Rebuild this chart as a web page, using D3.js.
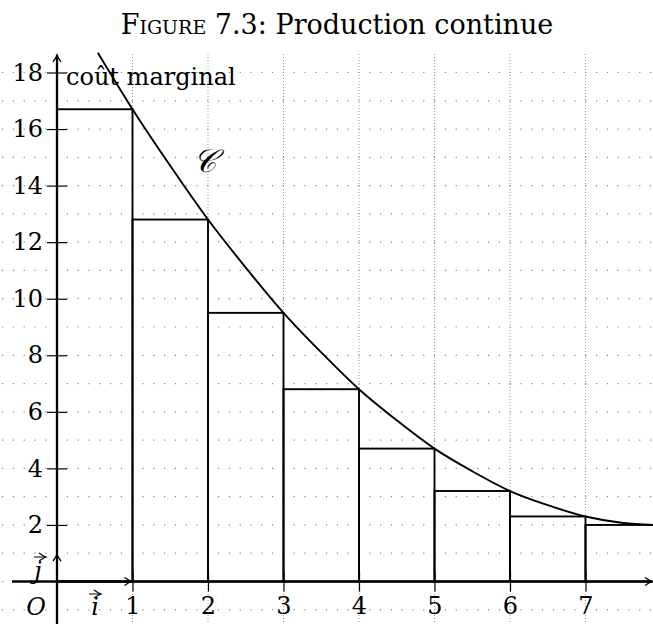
<!DOCTYPE html>
<html>
<head>
<meta charset="utf-8">
<script src="https://cdn.jsdelivr.net/npm/d3@7"></script>
<style>
  body { margin: 0; background: #fff; }
  svg text { font-family: "DejaVu Serif", serif; fill: #000; }
</style>
</head>
<body>
<svg id="chart"></svg>
<script>
let w = 653;
let h = 624;

// marginal cost curve C
let curveX = [0.54, 1, 1.5, 2, 2.5, 3, 3.5, 4, 4.5, 5, 5.5, 6, 6.5, 7, 7.5, 7.9];
let curveY = [18.7, 16.7, 14.7, 12.8, 11.1, 9.5, 8.1, 6.8, 5.7, 4.7, 3.9, 3.2, 2.7, 2.3, 2.07, 2.0];

// rectangles under the curve
let barStart = [0, 1, 2, 3, 4, 5, 6, 7];
let barEnd = [1, 2, 3, 4, 5, 6, 7, 7.9];
let barHeight = [16.7, 12.8, 9.5, 6.8, 4.7, 3.2, 2.3, 2.0];

let xTicks = [1, 2, 3, 4, 5, 6, 7];
let yTicks = [2, 4, 6, 8, 10, 12, 14, 16, 18];

let chart = d3.select("#chart").attr("width", w).attr("height", h);

let xScale = d3.scaleLinear().domain([0, 7]).range([57, 585.5]);
let yScale = d3.scaleLinear().domain([0, 18]).range([581.5, 72.5]);

// arrow marker
chart.append("defs").append("marker")
    .attr("id", "arr")
    .attr("viewBox", "-8 -5 10 10")
    .attr("markerWidth", 10).attr("markerHeight", 10)
    .attr("markerUnits", "userSpaceOnUse")
    .attr("orient", "auto")
    .append("path")
    .attr("d", "M -7 -4 Q -2 -0.6 0 0 Q -2 0.6 -7 4")
    .attr("fill", "none").attr("stroke", "#000").attr("stroke-width", 1.3);

// grid
let grid = chart.append("g");
grid.selectAll(".hg")
    .data(d3.range(-1, 19))
    .join("line")
    .attr("x1", 2).attr("x2", w)
    .attr("y1", (d) => yScale(d)).attr("y2", (d) => yScale(d))
    .attr("stroke", "#888").attr("stroke-width", 1.2)
    .attr("stroke-dasharray", "1.2 9.6");
grid.selectAll(".vg")
    .data(xTicks)
    .join("line")
    .attr("x1", (d) => xScale(d)).attr("x2", (d) => xScale(d))
    .attr("y1", 54).attr("y2", h)
    .attr("stroke", "#999").attr("stroke-width", 1)
    .attr("stroke-dasharray", "1 2");

// rectangles
chart.selectAll(".bar")
    .data(barHeight)
    .join("rect")
    .attr("x", (d, i) => xScale(barStart[i]))
    .attr("y", (d) => yScale(d))
    .attr("width", (d, i) => xScale(barEnd[i]) - xScale(barStart[i]) + (i == 7 ? 20 : 0))
    .attr("height", (d) => yScale(0) - yScale(d))
    .attr("fill", "none").attr("stroke", "#000").attr("stroke-width", 1.9);

// curve
let pts = curveX.map((x, i) => [x, curveY[i]]);
chart.append("path")
    .datum(pts)
    .attr("fill", "none").attr("stroke", "#000").attr("stroke-width", 1.9)
    .attr("d", d3.line()
        .x((d) => xScale(d[0]))
        .y((d) => yScale(d[1]))
        .curve(d3.curveMonotoneX));

// axes
chart.append("line")
    .attr("x1", 12).attr("x2", w - 1)
    .attr("y1", yScale(0)).attr("y2", yScale(0))
    .attr("stroke", "#000").attr("stroke-width", 2.3)
    .attr("marker-end", "url(#arr)");
chart.append("line")
    .attr("x1", xScale(0)).attr("x2", xScale(0))
    .attr("y1", h).attr("y2", 55)
    .attr("stroke", "#000").attr("stroke-width", 2.3)
    .attr("marker-end", "url(#arr)");

// unit vectors
chart.append("line")
    .attr("x1", xScale(0)).attr("x2", xScale(1) - 1)
    .attr("y1", yScale(0)).attr("y2", yScale(0))
    .attr("stroke", "#000").attr("stroke-width", 1.9)
    .attr("marker-end", "url(#arr)");
chart.append("line")
    .attr("x1", xScale(0)).attr("x2", xScale(0))
    .attr("y1", yScale(0)).attr("y2", yScale(1) + 1)
    .attr("stroke", "#000").attr("stroke-width", 1.9)
    .attr("marker-end", "url(#arr)");

// y axis ticks and labels
let yAxis = d3.axisLeft(yScale).tickValues(yTicks).tickSize(10).tickPadding(4)
    .tickFormat(d3.format("d"));
let yAxisGroup = chart.append("g")
    .attr("transform", `translate(${xScale(0)}, 0)`)
    .call(yAxis);
yAxisGroup.select(".domain").remove();
yAxisGroup.selectAll(".tick line").attr("x1", -10).attr("x2", 10)
    .attr("stroke", "#000").attr("stroke-width", 1.2);
yAxisGroup.selectAll(".tick text")
    .attr("font-size", 24).attr("font-family", "DejaVu Serif").attr("fill", "#000");

// x axis ticks and labels
let xAxis = d3.axisBottom(xScale).tickValues(xTicks).tickSize(10).tickPadding(5)
    .tickFormat(d3.format("d"));
let xAxisGroup = chart.append("g")
    .attr("transform", `translate(0, ${yScale(0)})`)
    .call(xAxis);
xAxisGroup.select(".domain").remove();
xAxisGroup.selectAll(".tick line").attr("y1", -10).attr("y2", 10)
    .attr("stroke", "#000").attr("stroke-width", 1.2);
xAxisGroup.selectAll(".tick text")
    .attr("font-size", 24).attr("font-family", "DejaVu Serif").attr("fill", "#000");

// labels
chart.append("text")
    .attr("x", 337).attr("y", 34)
    .attr("text-anchor", "middle").attr("font-size", 27)
    .html('<tspan style="font-variant: small-caps">Figure</tspan> 7.3: Production continue');

chart.append("text")
    .attr("x", 66).attr("y", 85)
    .attr("font-size", 24)
    .text("coût marginal");

chart.append("text")
    .attr("x", 193).attr("y", 172)
    .attr("font-size", 32).attr("font-style", "italic")
    .text("𝒞");

chart.append("text")
    .attr("x", 36).attr("y", 615)
    .attr("text-anchor", "middle").attr("font-size", 24).attr("font-style", "italic")
    .text("O");

chart.append("text")
    .attr("x", 95).attr("y", 615)
    .attr("text-anchor", "middle").attr("font-size", 24).attr("font-style", "italic")
    .text("i");
chart.append("text")
    .attr("x", 38).attr("y", 579)
    .attr("text-anchor", "middle").attr("font-size", 24).attr("font-style", "italic")
    .text("j");

// small arrows over i and j
chart.append("line")
    .attr("x1", 89).attr("x2", 101).attr("y1", 594).attr("y2", 594)
    .attr("stroke", "#000").attr("stroke-width", 1)
    .attr("marker-end", "url(#arr)");
chart.append("line")
    .attr("x1", 34).attr("x2", 46).attr("y1", 557).attr("y2", 557)
    .attr("stroke", "#000").attr("stroke-width", 1)
    .attr("marker-end", "url(#arr)");
</script>
</body>
</html>
